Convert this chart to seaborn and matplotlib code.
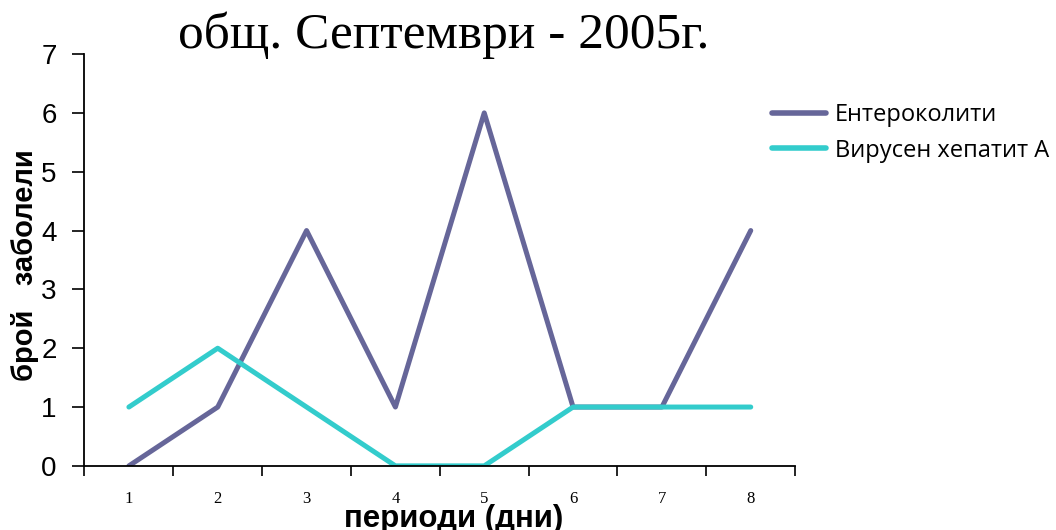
import matplotlib
matplotlib.use("Agg")
import matplotlib.pyplot as plt
import seaborn as sns
import pandas as pd
import numpy as np

periods = ["1", "2", "3", "4", "5", "6", "7", "8"]
enterocolitis = [0, 1, 4, 1, 6, 1, 1, 4]
hepatitis_a = [1, 2, 1, 0, 0, 1, 1, 1]
series_names = ["Ентероколити", "Вирусен хепатит А"]
colors = ["#666699", "#33CCCC"]
y_ticks = [0, 1, 2, 3, 4, 5, 6, 7]

sns.set_theme(style="white")
plt.rcParams["font.family"] = ["Liberation Sans", "DejaVu Sans"]
plt.rcParams["text.color"] = "black"
plt.rcParams["axes.labelcolor"] = "black"
plt.rcParams["xtick.color"] = "black"
plt.rcParams["ytick.color"] = "black"

pos = np.arange(len(periods))
df = pd.DataFrame({
    "pos": np.concatenate([pos, pos]),
    "value": enterocolitis + hepatitis_a,
    "series": [series_names[0]] * len(periods) + [series_names[1]] * len(periods),
})

fig = plt.figure(figsize=(10.56, 5.30), dpi=100)
ax = fig.add_axes([0.080, 0.121, 0.673, 0.777])

sns.lineplot(data=df, x="pos", y="value", hue="series", palette=colors,
             linewidth=3.6, ax=ax, legend=True)

ax.set_xlim(-0.5, len(periods) - 0.5)
ax.set_ylim(0, 7)
ax.set_yticks(y_ticks)
ax.set_yticklabels([str(t) for t in y_ticks], fontsize=20)

# category boundaries carry the tick marks, labels sit at category centres
ax.set_xticks(np.arange(-0.5, len(periods) + 0.5, 1.0))
ax.set_xticklabels([])
ax.set_xticks(pos, minor=True)
ax.set_xticklabels(periods, minor=True, fontsize=12, family="Liberation Serif")
ax.tick_params(axis="x", which="major", bottom=True, direction="out",
               length=7, width=1.2, colors="black")
ax.tick_params(axis="x", which="minor", bottom=True, length=0, pad=18)
ax.tick_params(axis="y", left=True, direction="out", length=9, width=1.2,
               colors="black", pad=11)

for side in ["top", "right"]:
    ax.spines[side].set_visible(False)
for side in ["left", "bottom"]:
    ax.spines[side].set_color("black")
    ax.spines[side].set_linewidth(1.3)

ax.set_xlabel("периоди (дни)", fontsize=22.5, fontweight="bold")
ax.xaxis.set_label_coords(0.52, -0.092)
ax.set_ylabel("брой   заболели", fontsize=21, fontweight="bold")
ax.yaxis.set_label_coords(-0.064, 0.488)

fig.text(0.42, 0.934, "общ. Септември - 2005г.", fontsize=37,
         family="Liberation Serif", ha="center", va="center")

leg = ax.legend(loc="upper left", bbox_to_anchor=(0.731, 0.806),
                bbox_transform=fig.transFigure, frameon=False,
                borderaxespad=0, borderpad=0,
                prop={"family": "Open Sans", "size": 17}, handlelength=2.3,
                labelspacing=0.5, handletextpad=0.35)
for line in leg.get_lines():
    line.set_linewidth(4)

fig.savefig("out.png", dpi=100)
